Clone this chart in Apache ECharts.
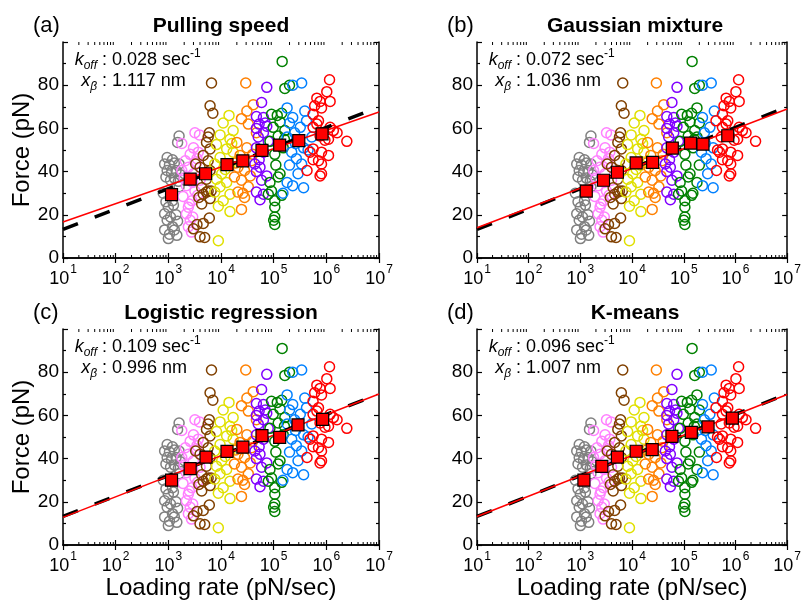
<!DOCTYPE html>
<html><head><meta charset="utf-8">
<script src="https://cdn.jsdelivr.net/npm/echarts@6/dist/echarts.min.js"></script>
<style>html,body{margin:0;padding:0;background:#fff}#c{width:804px;height:601px}</style>
</head><body><div id="c"></div>
<script>
const FONT = '"Liberation Sans", Arial, Helvetica, sans-serif';

// ---------------- DATA ----------------
const panelTags = ['(a)', '(b)', '(c)', '(d)'];
const panelTitles = ['Pulling speed', 'Gaussian mixture', 'Logistic regression', 'K-means'];
const koffVals = ['0.028', '0.072', '0.109', '0.096'];
const xbetaVals = ['1.117', '1.036', '0.996', '1.007'];
const yTickValues = [0, 20, 40, 60, 80];
const xTickExponents = [1, 2, 3, 4, 5, 6, 7];
const xAxisTitle = 'Loading rate (pN/sec)';
const yAxisTitle = 'Force (pN)';

const clusterNames = ['grey', 'pink', 'brown', 'yellow', 'orange', 'purple', 'green', 'blue', 'red'];
const clusterColors = ['#808080', '#ff80ff', '#804000', '#e0e000', '#ff8000', '#8000ff', '#008000', '#0080ff', '#ff0000'];

// [loading rate (pN/sec), rupture force (pN)]
const greyPts = [[1.6e3,56.5],[1.5e3,53.5],[9.5e2,46.5],[1.2e3,45.5],[8.5e2,43.5],[1.05e3,43],[1.3e3,44],[1.6e3,43.5],
  [9.5e2,40.5],[1.15e3,39.5],[1.4e3,40.5],[1.7e3,38.5],[9e2,37.5],[1.1e3,36],[1.3e3,37],[1.55e3,35.5],[1.2e3,26.5],
  [9e2,26],[1.0e3,23.5],[1.25e3,24.5],[8.5e2,20.5],[1.1e3,19],[1.4e3,20],[9.5e2,17.5],[1.5e3,17],[1.2e3,14.5],
  [8.5e2,13],[1.05e3,11],[1.3e3,13],[1.0e3,9],[1.45e3,10.5],[1.6e3,33],[8e2,30]];
const pinkPts = [[3.2e3,58],[3.9e3,57],[1.8e3,53],[3e3,51],[2.6e3,48],[3.7e3,49],[2.1e3,45],[3.4e3,44],[2.4e3,42],
  [1.8e3,40.5],[3e3,39],[4e3,36],[2.2e3,33.5],[3.2e3,31],[1.9e3,28.5],[2.8e3,26.5],[2.4e3,23.5],[2.2e3,20.5],
  [2.6e3,17.5],[2.4e3,14.5],[2.75e3,12],[3.5e3,46],[2.9e3,35],[2e3,37],[3.6e3,29],[2.5e3,25],[2.9e3,19]];
const brownPts = [[6.6e3,81],[6.2e3,70.5],[7e3,67],[6e3,58],[5.7e3,56],[5.3e3,53.5],[6.2e3,50.5],[4.6e3,47.5],
  [5.7e3,45],[4e3,42],[3.3e3,43.5],[6.2e3,40.5],[5.3e3,36.5],[4.3e3,32.5],[5.7e3,31],[4.6e3,29.5],[6.2e3,27.5],
  [4.3e3,25],[5.3e3,30.5],[6e3,18.5],[4.6e3,16],[3.5e3,15.5],[3e3,13.5],[4e3,9.8],[4.9e3,9.5],[6.5e3,31],[3.8e3,28]];
const yellowPts = [[1.42e4,66],[1.1e4,62.5],[1.7e4,59],[9.6e3,57],[1.48e4,55],[8.2e3,52.5],[1.28e4,50.5],[1.7e4,49],
  [9.6e3,46.5],[7.6e3,43.5],[1.48e4,43],[1.03e4,39],[8.2e3,36.5],[1.28e4,35],[9.6e3,33],[7.6e3,30.5],[1.48e4,29.5],
  [1.1e4,26.5],[8.9e3,24],[1.48e4,21.5],[8.9e3,8],[1.2e4,41],[1.6e4,53]];
const orangePts = [[2.95e4,81],[4.1e4,71],[3.1e4,68],[2.45e4,64.5],[3.3e4,62],[4.7e4,58],[2e4,53.5],[3.1e4,51],
  [2.3e4,47.5],[3.8e4,45],[2.1e4,42],[2.8e4,40.5],[3.6e4,38],[2.45e4,36],[3.3e4,33],[2.1e4,30.5],[2.8e4,28],
  [1.8e4,37.5],[2.45e4,22.5],[2.6e4,30],[4e4,48],[1.9e4,44]];
const purplePts = [[7.4e4,79],[5.9e4,72],[4.7e4,65.5],[6.4e4,65],[7.4e4,61],[4.7e4,60],[6.4e4,58],[5.1e4,56],[7.9e4,54],
  [4.7e4,51],[6.4e4,49],[4.4e4,43.5],[5.5e4,42],[4.7e4,40],[7.4e4,38],[5.9e4,36],[4.7e4,30.5],[6.4e4,29.5],[5.5e4,27],
  [5.3e4,45.5],[6.9e4,62.5],[5.3e4,62]];
const greenPts = [[1.45e5,91],[1.63e5,78.5],[2.0e5,80],[1.42e5,67],[1.17e5,66],[9.1e4,66.5],[1.32e5,63],[9.8e4,60.5],
  [1.63e5,59],[1.22e5,56.5],[8.5e4,54],[1.52e5,51],[1.05e5,48],[8.5e4,35],[1.32e5,39],[1.22e5,37.5],[9.1e4,31],
  [7.9e4,29.5],[1.42e5,29],[1.05e5,26.5],[1.05e5,23.5],[1.05e5,19],[1e5,17.5],[1.05e5,15.5],[1.6e5,55],[1.1e5,43]];
const bluePts = [[3.4e5,81],[2.3e5,80],[1.8e5,69.5],[3.9e5,68],[2.3e5,65],[2e5,62.5],[3.2e5,60.5],[4.2e5,63.5],[2.5e5,58],
  [1.8e5,56],[5.3e5,56],[3.7e5,51],[2.2e5,49],[2.7e5,46],[2e5,43],[3.4e5,43.5],[1.8e5,35],[2.3e5,33.5],[1.5e5,30],
  [2.9e5,39],[3.7e5,32.5],[4.5e5,50],[2.6e5,53]];
const redPts = [[1.15e6,82.5],[1.02e6,77],[6.6e5,74],[7.6e5,72.5],[1.18e6,72.5],[6e5,70.5],[8.1e5,69.5],[5.6e5,66.5],
  [7.1e5,63.5],[1.18e6,60.5],[5.6e5,60.5],[1.6e6,58],[1.36e6,59],[7.6e5,56.5],[9.4e5,54.5],[2.45e6,54],[5.6e5,50.5],
  [8.1e5,49],[4.9e5,49],[1.1e6,47.5],[5.6e5,45.5],[7.1e5,45],[8.1e5,43.5],[4.3e5,40.5],[8.1e5,39],[7.6e5,38],
  [1.1e6,55],[6.6e5,62]];
const clusterPts = [greyPts, pinkPts, brownPts, yellowPts, orangePts, purplePts, greenPts, bluePts, redPts];

// cluster re-labelling seen in panels (b) and (d): [panel, from, to, rate below, rate above]
const relabels = [
  [1, 'blue', 'green', 2.1e5, 0], [1, 'blue', 'red', Infinity, 4.0e5],
  [3, 'blue', 'green', 2.1e5, 0], [3, 'blue', 'red', Infinity, 4.0e5]
];

// mean rupture force per group (red squares)
const meanRates = [
  [1.15e3, 2.6e3, 5.1e3, 1.3e4, 2.6e4, 6.0e4, 1.3e5, 3.0e5, 8.3e5],
  [1.3e3, 2.8e3, 5.2e3, 1.2e4, 2.5e4, 6.0e4, 1.35e5, 2.35e5, 7.1e5],
  [1.15e3, 2.6e3, 5.2e3, 1.3e4, 2.6e4, 6.0e4, 1.3e5, 2.9e5, 8.5e5],
  [1.17e3, 2.6e3, 5.2e3, 1.2e4, 2.45e4, 5.9e4, 1.4e5, 2.95e5, 8.7e5]
];
const meanForces = [
  [29.3, 36.5, 39.0, 43.2, 45.0, 49.8, 52.3, 54.3, 57.5],
  [31.0, 36.0, 39.7, 44.0, 44.3, 50.9, 53.2, 52.7, 56.6],
  [30.0, 35.4, 40.7, 43.3, 45.3, 50.6, 49.8, 55.6, 58.2],
  [30.0, 36.4, 40.7, 43.4, 44.2, 50.3, 52.1, 54.7, 58.7]
];
// fitted lines (values at the ends of the x range)
const fitRates = [10, 1e7];
const redFitForces = [[16.7, 67.6], [14.0, 69.0], [12.8, 69.9], [13.2, 69.7]];
const dashedFitForces = [13.2, 69.9];

// ---------------- LAYOUT ----------------
const W = 316, H = 216;
const gridPos = [[63, 42], [477, 42], [63, 329], [477, 329]];
const X_MIN = 10, X_MAX = 1e7, Y_MIN = 0, Y_MAX = 100;

const minorRates = [];
for (let e = 1; e < 7; e++) for (let k = 2; k <= 9; k++) minorRates.push([k * Math.pow(10, e), 0]);

function pointsFor(panel) {
  const out = clusterNames.map(() => []);
  clusterPts.forEach((pts, ci) => {
    pts.forEach(pt => {
      let name = clusterNames[ci];
      relabels.forEach(r => {
        if (r[0] === panel && r[1] === name && pt[0] < r[3] && pt[0] > r[4]) name = r[2];
      });
      out[clusterNames.indexOf(name)].push(pt);
    });
  });
  return out;
}

const grid = [], xAxis = [], yAxis = [], series = [], graphic = [];
const axisLineStyle = { color: '#000', width: 1.5 };
const tickStyle = { color: '#000', width: 1.2 };

for (let p = 0; p < 4; p++) {
  const [gl, gt] = gridPos[p];
  grid.push({ left: gl, top: gt, width: W, height: H, containLabel: false });
  const bottomRow = p >= 2, leftCol = p % 2 === 0;
  xAxis.push({
    type: 'log', logBase: 10, gridIndex: p, min: X_MIN, max: X_MAX, position: 'bottom',
    axisLine: { show: true, lineStyle: axisLineStyle },
    axisTick: { show: true, inside: true, length: 5, lineStyle: tickStyle },
    splitLine: { show: false },
    axisLabel: {
      show: true, interval: 0, margin: 6, color: '#000',
      showMinLabel: true, showMaxLabel: true,
      formatter: v => {
        const e = Math.round(Math.log10(v));
        return xTickExponents.includes(e) ? '{b|10}{s|' + e + '}' : '';
      },
      rich: {
        b: { fontSize: 18, fontFamily: FONT, color: '#000', lineHeight: 24, verticalAlign: 'bottom' },
        s: { fontSize: 12, fontFamily: FONT, color: '#000', lineHeight: 24, verticalAlign: 'top', padding: [0, 0, 0, 1] }
      }
    },
    name: bottomRow ? xAxisTitle : '', nameLocation: 'middle', nameGap: 28,
    nameTextStyle: { fontSize: 24, fontFamily: FONT, color: '#000' }
  });
  xAxis.push({
    type: 'log', logBase: 10, gridIndex: p, min: X_MIN, max: X_MAX, position: 'top',
    axisLine: { show: true, lineStyle: axisLineStyle },
    axisTick: { show: true, inside: true, length: 5, lineStyle: tickStyle },
    axisLabel: { show: false }, splitLine: { show: false }
  });
  yAxis.push({
    type: 'value', gridIndex: p, min: Y_MIN, max: Y_MAX, interval: 20, position: 'left',
    axisLine: { show: true, lineStyle: axisLineStyle },
    axisTick: { show: true, inside: true, length: 5, lineStyle: tickStyle },
    minorTick: { show: true, splitNumber: 2, length: 3, lineStyle: tickStyle },
    splitLine: { show: false },
    axisLabel: {
      show: true, margin: 4, color: '#000', fontSize: 19, fontFamily: FONT,
      formatter: v => yTickValues.includes(v) ? String(v) : ''
    },
    name: leftCol ? yAxisTitle : '', nameLocation: 'middle', nameGap: 28,
    nameTextStyle: { fontSize: 24, fontFamily: FONT, color: '#000' }
  });
  yAxis.push({
    type: 'value', gridIndex: p, min: Y_MIN, max: Y_MAX, interval: 20, position: 'right',
    axisLine: { show: true, lineStyle: axisLineStyle },
    axisTick: { show: true, inside: true, length: 5, lineStyle: tickStyle },
    minorTick: { show: true, splitNumber: 2, length: 3, lineStyle: tickStyle },
    splitLine: { show: false }, axisLabel: { show: false }
  });

  const xi = 2 * p, yi = 2 * p;
  const pts = pointsFor(p);
  pts.forEach((arr, ci) => {
    series.push({
      type: 'scatter', xAxisIndex: xi, yAxisIndex: yi, data: arr, symbol: 'circle', symbolSize: 10,
      itemStyle: { color: 'rgba(0,0,0,0)', borderColor: clusterColors[ci], borderWidth: 1.5, opacity: 1 },
      z: 2, silent: true
    });
  });
  series.push({
    type: 'line', xAxisIndex: xi, yAxisIndex: yi, data: fitRates.map((r, i) => [r, dashedFitForces[i]]),
    showSymbol: false, symbol: 'none', lineStyle: { color: '#000', width: 3.5, type: [16, 18] }, z: 3, silent: true
  });
  series.push({
    type: 'line', xAxisIndex: xi, yAxisIndex: yi, data: fitRates.map((r, i) => [r, redFitForces[p][i]]),
    showSymbol: false, symbol: 'none', lineStyle: { color: '#ff0000', width: 1.5 }, z: 4, silent: true
  });
  series.push({
    type: 'scatter', xAxisIndex: xi, yAxisIndex: yi, data: meanRates[p].map((r, i) => [r, meanForces[p][i]]),
    symbol: 'rect', symbolSize: 12,
    itemStyle: { color: '#ff0000', borderColor: '#000', borderWidth: 1.2, opacity: 1 }, z: 5, silent: true
  });
  series.push({
    type: 'custom', xAxisIndex: xi, yAxisIndex: yi, data: minorRates, silent: true, z: 6, clip: false,
    renderItem: (params, api) => {
      const x = api.value(0);
      const b = api.coord([x, Y_MIN]);
      const t = api.coord([x, Y_MAX]);
      return {
        type: 'group', children: [
          { type: 'line', shape: { x1: b[0], y1: b[1], x2: b[0], y2: b[1] - 3 }, style: { stroke: '#000', lineWidth: 1 } },
          { type: 'line', shape: { x1: t[0], y1: t[1], x2: t[0], y2: t[1] + 3 }, style: { stroke: '#000', lineWidth: 1 } }
        ]
      };
    }
  });

  // panel labels and titles
  graphic.push({ type: 'text', x: gl - 30, y: gt - 16, silent: true,
    style: { text: panelTags[p], font: '22px ' + FONT, fill: '#000', align: 'left', verticalAlign: 'middle' } });
  graphic.push({ type: 'text', x: gl + 158, y: gt - 16, silent: true,
    style: { text: panelTitles[p], font: 'bold 21px ' + FONT, fill: '#000', align: 'center', verticalAlign: 'middle' } });
  // k_off / x_beta annotations
  const colonX = gl + 34;
  const richL = {
    i: { fontSize: 18, fontFamily: FONT, fontStyle: 'italic', fill: '#000', lineHeight: 24, verticalAlign: 'middle' },
    sub: { fontSize: 12, fontFamily: FONT, fontStyle: 'italic', fill: '#000', lineHeight: 24, verticalAlign: 'bottom' }
  };
  const richR = {
    n: { fontSize: 18, fontFamily: FONT, fill: '#000', lineHeight: 24, verticalAlign: 'middle' },
    sup: { fontSize: 12, fontFamily: FONT, fill: '#000', lineHeight: 24, verticalAlign: 'top' }
  };
  graphic.push({ type: 'text', x: colonX, y: gt + 18, silent: true,
    style: { text: '{i|k}{sub|off}', rich: richL, align: 'right', verticalAlign: 'middle' } });
  graphic.push({ type: 'text', x: colonX, y: gt + 18, silent: true,
    style: { text: '{n| : ' + koffVals[p] + ' sec}{sup|-1}', rich: richR, align: 'left', verticalAlign: 'middle' } });
  graphic.push({ type: 'text', x: colonX, y: gt + 39, silent: true,
    style: { text: '{i|x}{sub|\u03b2}', rich: richL, align: 'right', verticalAlign: 'middle' } });
  graphic.push({ type: 'text', x: colonX, y: gt + 39, silent: true,
    style: { text: '{n| : ' + xbetaVals[p] + ' nm}', rich: richR, align: 'left', verticalAlign: 'middle' } });
}

const chart = echarts.init(document.getElementById('c'), null, { renderer: 'canvas' });
chart.setOption({
  animation: false,
  backgroundColor: '#fff',
  textStyle: { fontFamily: FONT },
  grid, xAxis, yAxis, series, graphic
});
</script>
</body></html>
